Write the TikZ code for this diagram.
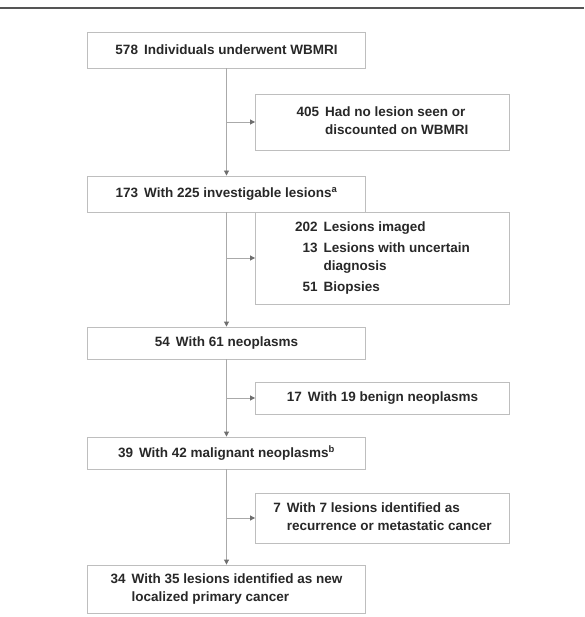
\documentclass[tikz,border=0pt]{standalone}
\usepackage{fontspec}
\setmainfont{Liberation Sans}
\usetikzlibrary{arrows.meta}
\definecolor{boxc}{RGB}{190,190,190}
\definecolor{linec}{RGB}{170,170,170}
\definecolor{tipc}{RGB}{110,110,110}
\definecolor{txt}{RGB}{40,40,40}
\definecolor{rulec}{RGB}{85,85,85}
\begin{document}
\begin{tikzpicture}[x=1pt,y=-1pt,
  box/.style={draw=boxc, line width=0.9pt, fill=white, inner sep=0pt, align=center, text=txt,
    font=\fontsize{13.5}{18.5}\selectfont\bfseries},
  lbox/.style={box, minimum width=278pt},
  rbox/.style={box, minimum width=254pt},
  conn/.style={draw=linec, line width=0.9pt, -{Triangle[length=5pt,width=5pt,color=tipc]}}]
\useasboundingbox (0,0) rectangle (584,617);
\draw[rulec, line width=1.8pt] (0,8) -- (584,8);

\node[lbox, minimum height=36pt] (b1) at (226.5,50) {578\hspace{6pt}Individuals underwent WBMRI};
\node[rbox, minimum height=56pt] (b405) at (382.5,122)
  {\begin{tabular}{@{}r@{\hspace{6pt}}l@{}}405 & Had no lesion seen or\\ & discounted on WBMRI\end{tabular}};
\node[lbox, minimum height=36pt] (b173) at (226.5,194) {173\hspace{6pt}With 225 investigable lesions\textsuperscript{a}};
\node[rbox, minimum height=92pt] (b202) at (382.5,258)
  {\begin{tabular}{@{}r@{\hspace{6pt}}l@{}}202 & Lesions imaged\\[2.5pt] 13 & Lesions with uncertain\\ & diagnosis\\[2.5pt] 51 & Biopsies\end{tabular}};
\node[lbox, minimum height=32pt] (b54) at (226.5,343) {54\hspace{6pt}With 61 neoplasms};
\node[rbox, minimum height=32pt] (b17) at (382.5,398) {17\hspace{6pt}With 19 benign neoplasms};
\node[lbox, minimum height=32pt] (b39) at (226.5,453) {39\hspace{6pt}With 42 malignant neoplasms\textsuperscript{b}};
\node[rbox, minimum height=50pt] (b7) at (382.5,518)
  {\begin{tabular}{@{}r@{\hspace{6pt}}l@{}}7 & With 7 lesions identified as\\ & recurrence or metastatic cancer\end{tabular}};
\node[lbox, minimum height=48pt] (b34) at (226.5,589)
  {\begin{tabular}{@{}r@{\hspace{6pt}}l@{}}34 & With 35 lesions identified as new\\ & localized primary cancer\end{tabular}};

\draw[conn] (b1) -- (b173);
\draw[conn] (b405.west -| b1.south) -- (b405.west);
\draw[conn] (b173) -- (b54);
\draw[conn] (b202.west -| b173.south) -- (b202.west);
\draw[conn] (b54) -- (b39);
\draw[conn] (b17.west -| b54.south) -- (b17.west);
\draw[conn] (b39) -- (b34);
\draw[conn] (b7.west -| b39.south) -- (b7.west);
\end{tikzpicture}
\end{document}
